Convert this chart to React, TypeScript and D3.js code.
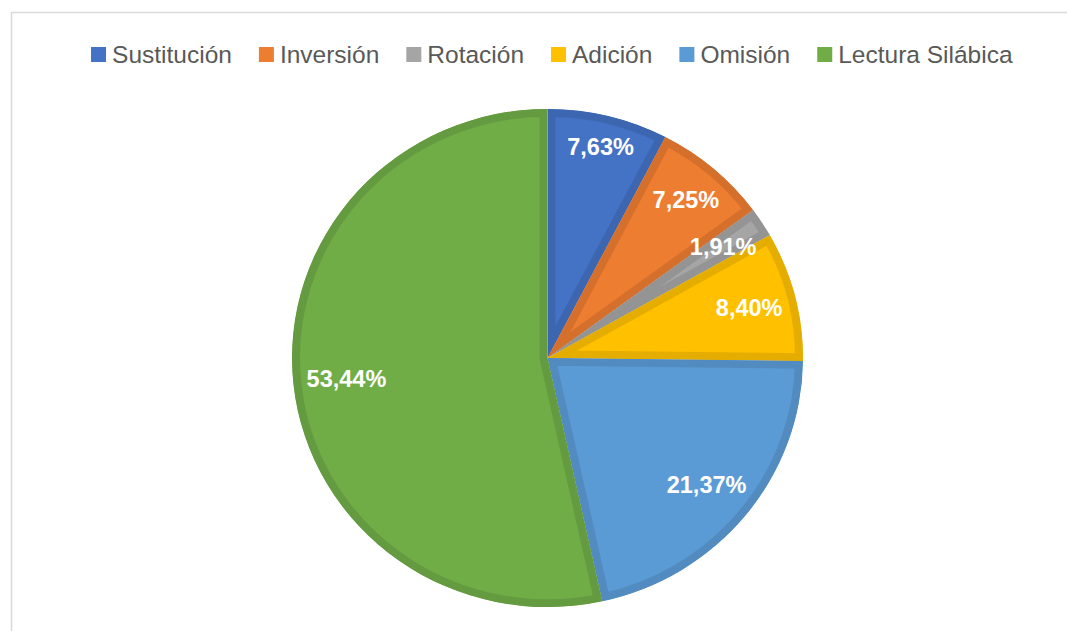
import React, { useEffect, useRef } from 'react'
import * as d3 from 'd3'

const categories = ['Sustitución', 'Inversión', 'Rotación', 'Adición', 'Omisión', 'Lectura Silábica']
const values = [7.63, 7.25, 1.91, 8.4, 21.37, 53.44]
const colors = ['#4472C4', '#ED7D31', '#A5A5A5', '#FFC000', '#5B9BD5', '#70AD47']

const WIDTH = 1067
const HEIGHT = 631
const FONT = "'Liberation Sans', Arial, sans-serif"

const formatPct = (v: number) => v.toFixed(2).replace('.', ',') + '%'

const App: React.FC = () => {
  const svgRef = useRef<SVGSVGElement>(null)

  useEffect(() => {
    if (!svgRef.current) return
    const svg = d3.select(svgRef.current)
    svg.selectAll('*').remove()
    svg.attr('width', WIDTH).attr('height', HEIGHT)

    // chart frame, cut off on the right and at the bottom
    svg.append('rect')
      .attr('x', 11.5)
      .attr('y', 12.5)
      .attr('width', WIDTH)
      .attr('height', HEIGHT)
      .attr('fill', 'none')
      .attr('stroke', '#d9d9d9')
      .attr('stroke-width', 1.5)

    const cx = 547.5
    const cy = 358
    const radius = 255.5
    const squash = 0.975

    const pie = d3.pie<number>().sort(null).startAngle(0).endAngle(Math.PI * 2)
    const arcs = pie(values)
    const arc = d3.arc<d3.PieArcDatum<number>>().innerRadius(0).outerRadius(radius)

    const defs = svg.append('defs')
    const g = svg.append('g')
      .attr('transform', `translate(${cx},${cy}) scale(1,${squash})`)

    // slices with a darker inner border (stroke clipped to the slice)
    arcs.forEach((a, i) => {
      defs.append('clipPath')
        .attr('id', `slice-clip-${i}`)
        .append('path')
        .attr('d', arc(a) as string)

      g.append('path')
        .attr('d', arc(a) as string)
        .attr('fill', colors[i])
        .attr('stroke', d3.color(colors[i])!.darker(0.3).formatHex())
        .attr('stroke-width', 16)
        .attr('clip-path', `url(#slice-clip-${i})`)
    })

    // data labels, placed inside the outer edge
    const labels = svg.append('g')
      .style('font-family', FONT)
      .style('font-size', '23.5px')
      .style('font-weight', 'bold')
      .attr('fill', '#ffffff')

    arcs.forEach((a, i) => {
      const ang = (a.startAngle + a.endAngle) / 2
      const t = labels.append('text')
        .attr('text-anchor', 'middle')
        .attr('dy', '0.35em')
        .text(formatPct(values[i]))
      const w = (t.node() as SVGTextElement).getComputedTextLength()
      const hw = w / 2
      const hh = 10
      const s = Math.abs(Math.sin(ang))
      const c = Math.abs(Math.cos(ang))
      const R = radius - 12.5
      const b = s * hw + c * hh
      const d = -b + Math.sqrt(b * b - (hw * hw + hh * hh - R * R))
      t.attr('x', cx + d * Math.sin(ang))
        .attr('y', cy - d * Math.cos(ang) * squash)
    })

    // legend across the top
    const legend = svg.append('g')
      .style('font-family', FONT)
      .style('font-size', '24.5px')
    let x = 0
    categories.forEach((name, i) => {
      const item = legend.append('g').attr('transform', `translate(${x},0)`)
      item.append('rect')
        .attr('x', 0)
        .attr('y', 47)
        .attr('width', 15)
        .attr('height', 15)
        .attr('fill', colors[i])
      const t = item.append('text')
        .attr('x', 21)
        .attr('y', 62.5)
        .attr('fill', '#595959')
        .text(name)
      const w = (t.node() as SVGTextElement).getComputedTextLength()
      x += 21 + w + 27
    })
    const total = x - 27
    legend.attr('transform', `translate(${551.8 - total / 2},0)`)
  }, [])

  return (
    <svg
      ref={svgRef}
      style={{ position: 'absolute', left: 0, top: 0, display: 'block', background: '#ffffff' }}
    />
  )
}

export default App
